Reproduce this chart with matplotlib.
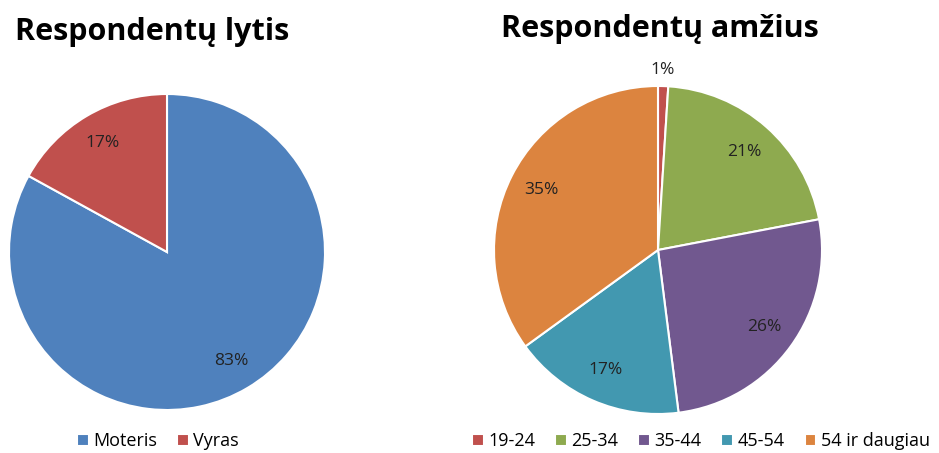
import matplotlib.pyplot as plt

# data
gender_labels = ['Moteris', 'Vyras']
gender_values = [83, 17]
gender_colors = ['#4F81BD', '#C0504D']

age_labels = ['19-24', '25-34', '35-44', '45-54', '54 ir daugiau']
age_values = [1, 21, 26, 17, 35]
age_colors = ['#C0504D', '#8EAA4F', '#71588F', '#4298B0', '#DC843F']

plt.rcParams['font.family'] = ['Open Sans', 'DejaVu Sans']

W, H = 939, 453
fig = plt.figure(figsize=(W / 100, H / 100), dpi=100)


def pie_axes(cx, cy, r):
    # pixel centre/radius -> figure fraction
    return fig.add_axes([(cx - r) / W, (H - cy - r) / H, 2 * r / W, 2 * r / H])


# left pie - gender
ax1 = pie_axes(167, 252, 158)
w1, t1, a1 = ax1.pie(gender_values, colors=gender_colors, startangle=90, counterclock=False,
                     autopct='%d%%', pctdistance=0.8, radius=1,
                     wedgeprops=dict(edgecolor='white', linewidth=1.5),
                     textprops=dict(fontsize=12.5, color='#222222'))
ax1.set_xlim(-1, 1)
ax1.set_ylim(-1, 1)
ax1.set_aspect('equal')
fig.text(152 / W, 1 - 32 / H, 'Respondentų lytis', fontsize=22, fontweight='bold',
         ha='center', va='center')
fig.legend(w1, gender_labels, loc='center', bbox_to_anchor=(158 / W, 1 - 441 / H), ncol=2,
           frameon=False, fontsize=13, handlelength=0.65, handleheight=0.65,
           handletextpad=0.25, columnspacing=1.1)

# right pie - age
ax2 = pie_axes(658, 250, 164)
w2, t2, a2 = ax2.pie(age_values, colors=age_colors, startangle=90, counterclock=False,
                     autopct='%d%%', pctdistance=0.8, radius=1,
                     wedgeprops=dict(edgecolor='white', linewidth=1.5),
                     textprops=dict(fontsize=12.5, color='#222222'))
a2[0].set_position((0.03, 1.1))
ax2.set_xlim(-1, 1)
ax2.set_ylim(-1, 1)
ax2.set_aspect('equal')
fig.text(660 / W, 1 - 29 / H, 'Respondentų amžius', fontsize=22, fontweight='bold',
         ha='center', va='center')
fig.legend(w2, age_labels, loc='center', bbox_to_anchor=(701 / W, 1 - 441 / H), ncol=5,
           frameon=False, fontsize=13, handlelength=0.65, handleheight=0.65,
           handletextpad=0.25, columnspacing=1.1)

fig.savefig('out.png', dpi=100)
